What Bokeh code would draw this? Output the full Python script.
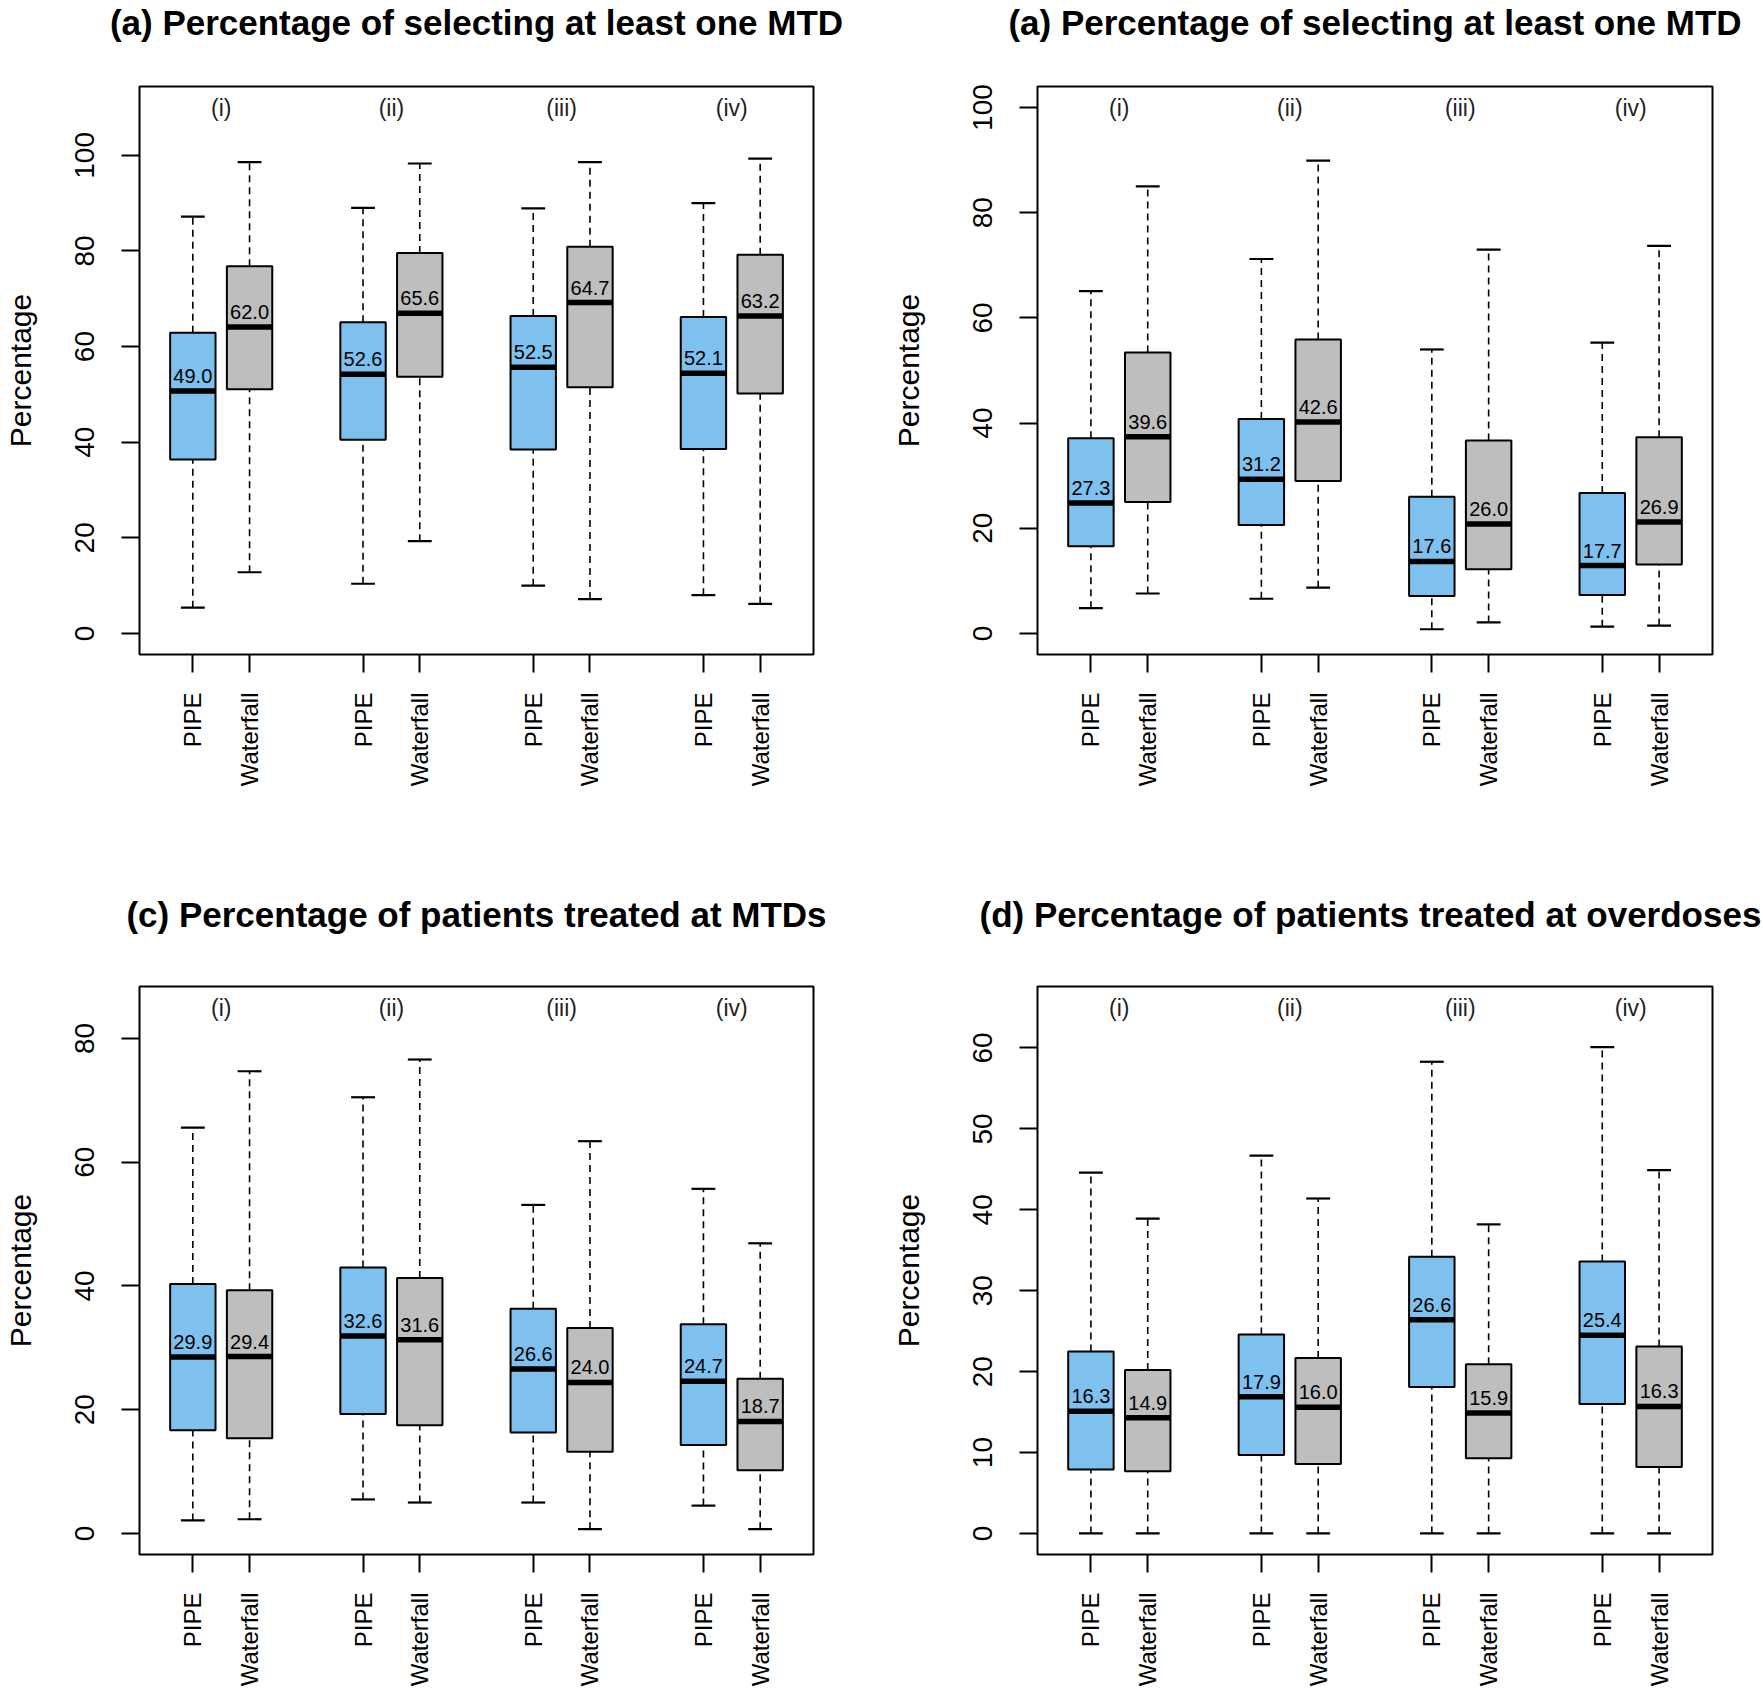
import math
from bokeh.plotting import figure
from bokeh.layouts import gridplot
from bokeh.models import Range1d, FixedTicker, ColumnDataSource, Title
from bokeh.core.properties import value
from bokeh.embed import file_html
from bokeh.resources import INLINE

# ---------------- data ----------------
groups = ["(i)", "(ii)", "(iii)", "(iv)"]
methods = ["PIPE", "Waterfall"]

titles = [
    "(a) Percentage of selecting at least one MTD",
    "(a) Percentage of selecting at least one MTD",
    "(c) Percentage of patients treated at MTDs",
    "(d) Percentage of patients treated at overdoses",
]

# order of boxes: (i) PIPE, (i) Waterfall, (ii) PIPE, (ii) Waterfall, ...
a_low = [5.4, 12.8, 10.4, 19.3, 10.0, 7.2, 8.0, 6.2]
a_q1 = [36.4, 51.1, 40.5, 53.7, 38.5, 51.5, 38.6, 50.2]
a_med = [50.7, 64.1, 54.2, 67.0, 55.7, 69.2, 54.4, 66.4]
a_q3 = [62.9, 76.8, 65.1, 79.6, 66.4, 80.9, 66.2, 79.2]
a_high = [87.2, 98.6, 89.0, 98.3, 88.9, 98.6, 90.0, 99.3]
a_mean = [49.0, 62.0, 52.6, 65.6, 52.5, 64.7, 52.1, 63.2]

b_low = [4.8, 7.6, 6.6, 8.7, 0.8, 2.1, 1.3, 1.5]
b_q1 = [16.6, 25.0, 20.6, 29.0, 7.1, 12.2, 7.3, 13.1]
b_med = [24.8, 37.4, 29.3, 40.2, 13.7, 20.8, 12.9, 21.2]
b_q3 = [37.1, 53.4, 40.8, 55.9, 26.0, 36.7, 26.7, 37.3]
b_high = [65.1, 85.0, 71.2, 89.9, 54.0, 73.0, 55.3, 73.7]
b_mean = [27.3, 39.6, 31.2, 42.6, 17.6, 26.0, 17.7, 26.9]

c_low = [2.1, 2.3, 5.5, 5.0, 5.0, 0.7, 4.5, 0.7]
c_q1 = [16.7, 15.4, 19.3, 17.5, 16.3, 13.2, 14.3, 10.2]
c_med = [28.5, 28.6, 31.9, 31.3, 26.6, 24.4, 24.6, 18.1]
c_q3 = [40.3, 39.3, 43.0, 41.3, 36.3, 33.2, 33.8, 25.0]
c_high = [65.6, 74.7, 70.5, 76.6, 53.1, 63.4, 55.7, 46.9]
c_mean = [29.9, 29.4, 32.6, 31.6, 26.6, 24.0, 24.7, 18.7]

d_low = [0.0, 0.0, 0.0, 0.0, 0.0, 0.0, 0.0, 0.0]
d_q1 = [7.9, 7.7, 9.7, 8.6, 18.1, 9.3, 16.0, 8.2]
d_med = [15.1, 14.3, 16.9, 15.6, 26.4, 14.9, 24.5, 15.7]
d_q3 = [22.5, 20.2, 24.6, 21.7, 34.2, 20.9, 33.6, 23.1]
d_high = [44.6, 38.9, 46.7, 41.4, 58.3, 38.2, 60.1, 44.9]
d_mean = [16.3, 14.9, 17.9, 16.0, 26.6, 15.9, 25.4, 16.3]

ylims = [110, 100, 85, 65]
yticks = [
    [0, 20, 40, 60, 80, 100],
    [0, 20, 40, 60, 80, 100],
    [0, 20, 40, 60, 80],
    [0, 10, 20, 30, 40, 50, 60],
]

# ---------------- style ----------------
FONT = "Liberation Sans"
FILLS = {"PIPE": "#7EC0EE", "Waterfall": "#BEBEBE"}
BOXW = 0.8
STAPLE = 0.21


def make_panel(title, low, q1, med, q3, high, means, ytop, ticks,
               width, height, border_left, border_right, border_top, border_bottom,
               spacer, ylabel_standoff, title_shift=None):
    pos, names, fills = [], [], []
    for gi, g in enumerate(groups):
        for mi, m in enumerate(methods):
            pos.append(gi * 3 + mi + 1)
            names.append(m)
            fills.append(FILLS[m])
    n = len(pos)
    xlo, xhi = 0.5, n / 2 * 3 - 0.5
    xpad = 0.04 * (xhi - xlo)
    ypad = 0.04 * ytop

    p = figure(width=width, height=height, output_backend="svg", toolbar_location=None,
               x_range=Range1d(xlo - xpad, xhi + xpad),
               y_range=Range1d(-ypad, ytop + ypad),
               min_border_left=border_left, min_border_right=border_right,
               min_border_top=border_top, min_border_bottom=border_bottom)

    # spacer between frame and title, then the title itself
    p.add_layout(Title(text=" ", text_font_size="1px", standoff=spacer), "above")
    t = Title(text=title, text_font=FONT, text_font_size="35px", text_font_style="bold",
              text_color="black", standoff=0, vertical_align="bottom")
    if title_shift is None:
        t.align = "center"
    else:
        t.align = "left"
        t.offset = title_shift
    p.add_layout(t, "above")

    p.grid.visible = False
    p.outline_line_color = "black"
    p.outline_line_width = 2
    p.outline_line_alpha = 1
    p.background_fill_color = "white"
    p.border_fill_color = "white"

    src = ColumnDataSource(dict(
        x=pos,
        x0=[v - BOXW / 2 for v in pos], x1=[v + BOXW / 2 for v in pos],
        s0=[v - STAPLE for v in pos], s1=[v + STAPLE for v in pos],
        low=low, q1=q1, med=med, q3=q3, high=high,
        fill=fills, lab=["%.1f" % v for v in means],
    ))

    dash = "7 5"
    p.segment("x", "q3", "x", "high", source=src, line_color="black",
              line_width=1.6, line_dash=dash)
    p.segment("x", "low", "x", "q1", source=src, line_color="black",
              line_width=1.6, line_dash=dash)
    p.segment("s0", "high", "s1", "high", source=src, line_color="black", line_width=2.2)
    p.segment("s0", "low", "s1", "low", source=src, line_color="black", line_width=2.2)
    p.vbar(x="x", width=BOXW, bottom="q1", top="q3", source=src,
           fill_color="fill", line_color="black", line_width=2)
    p.segment("x0", "med", "x1", "med", source=src, line_color="black", line_width=5.5)
    p.text(x="x", y="med", text="lab", source=src, text_align="center",
           text_baseline="middle", y_offset=-15, text_font=value(FONT),
           text_font_size="20px", text_color="black")

    gx = [gi * 3 + 1.5 for gi in range(len(groups))]
    p.text(x=gx, y=[ytop] * len(groups), text=groups, text_align="center",
           text_baseline="middle", text_font=value(FONT), text_font_size="23px",
           text_color="#222222")

    # axes
    xa = p.xaxis[0]
    xa.ticker = FixedTicker(ticks=pos)
    xa.major_label_overrides = {v: nm for v, nm in zip(pos, names)}
    xa.major_label_orientation = math.pi / 2
    xa.minor_tick_line_color = None
    xa.axis_line_color = None
    xa.major_tick_out = 18
    xa.major_tick_in = 0
    xa.major_tick_line_width = 2
    xa.major_tick_line_color = "black"
    xa.major_label_standoff = 20
    xa.major_label_text_font = FONT
    xa.major_label_text_font_size = "24px"
    xa.major_label_text_color = "black"

    ya = p.yaxis[0]
    ya.ticker = FixedTicker(ticks=ticks)
    ya.major_label_orientation = "parallel"
    ya.minor_tick_line_color = None
    ya.axis_line_color = None
    ya.major_tick_out = 18
    ya.major_tick_in = 0
    ya.major_tick_line_width = 2
    ya.major_tick_line_color = "black"
    ya.major_label_standoff = 27
    ya.major_label_text_font = FONT
    ya.major_label_text_font_size = "28px"
    ya.major_label_text_color = "black"
    ya.axis_label = "Percentage"
    ya.axis_label_text_font = FONT
    ya.axis_label_text_font_size = "30px"
    ya.axis_label_text_font_style = "normal"
    ya.axis_label_text_color = "black"
    ya.axis_label_standoff = ylabel_standoff
    return p


pa = make_panel(titles[0], a_low, a_q1, a_med, a_q3, a_high, a_mean, ylims[0], yticks[0],
                881, 845, 137, 68, 85, 191, 42, 36)
pb = make_panel(titles[1], b_low, b_q1, b_med, b_q3, b_high, b_mean, ylims[1], yticks[1],
                882, 845, 156, 51, 85, 191, 42, 46)
pc = make_panel(titles[2], c_low, c_q1, c_med, c_q3, c_high, c_mean, ylims[2], yticks[2],
                881, 844, 137, 68, 141, 134, 50, 36)
pd = make_panel(titles[3], d_low, d_q1, d_med, d_q3, d_high, d_mean, ylims[3], yticks[3],
                882, 844, 156, 51, 141, 134, 50, 46, title_shift=-58)

layout = gridplot([[pa, pb], [pc, pd]], toolbar_location=None)
open("out.html", "w").write(file_html(layout, INLINE))
